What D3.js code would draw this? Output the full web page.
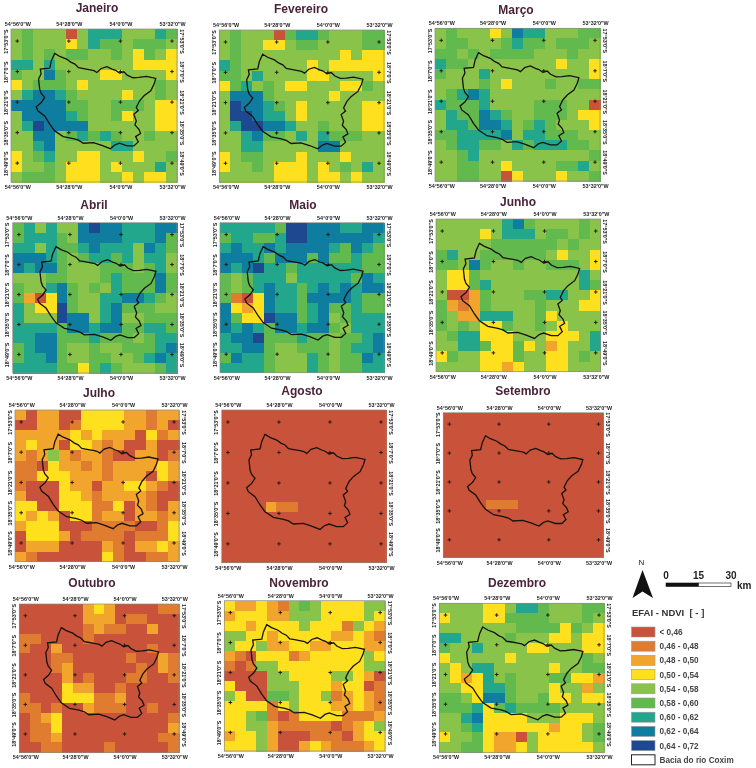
<!DOCTYPE html>
<html><head><meta charset="utf-8">
<script src="https://cdn.jsdelivr.net/npm/d3@7/dist/d3.min.js"></script>
<style>
html,body{margin:0;padding:0;background:#fff}
svg{display:block;filter:blur(0.6px)}
text{font-family:"Liberation Sans",Arial,sans-serif}
</style></head><body>
<svg id="c" width="756" height="768"></svg>
<script>
const classLabels = ["< 0,46","0,46 - 0,48","0,48 - 0,50","0,50 - 0,54","0,54 - 0,58","0,58 - 0,60","0,60 - 0,62","0,62 - 0,64","0,64 - 0,72"];
const classColors = ["#c8523a","#e07c30","#f2a52c","#ffe01e","#8ac34a","#62b94e","#22a68c","#0f7da0","#1e4890"];
const months = ["Janeiro","Fevereiro","Março","Abril","Maio","Junho","Julho","Agosto","Setembro","Outubro","Novembro","Dezembro"];
const lonTicks = [-54.9333,-54.4667,-54,-53.5333];
const lonLabels = ["54°56'0\"W","54°28'0\"W","54°0'0\"W","53°32'0\"W"];
const latTicks = [-17.8833,-18.1167,-18.35,-18.5833,-18.8167];
const latLabels = ["17°53'0\"S","18°7'0\"S","18°21'0\"S","18°35'0\"S","18°49'0\"S"];
const janeiro = ["454440466644465","454443465545554","454545544543543","664644444443333",
"544754443344443","345554344444454","467765444434454","777775544555433",
"477776544534433","468777744444433","447745656544544","446744444664444",
"345644334443445","344543334344464","455543334434334"];
const fevereiro = ["454440566544455","454433455444455","454444444443433","654444443433333",
"554644443344443","356454334443354","477754444434444","487765434444433",
"488766434444433","468877644544433","446755464655544","446644444774444",
"345544434443444","344543334345464","444443334334344"];
const marco = ["454443476644455","455444565545554","554545555444544","655444444443443",
"544464444444443","444454344454455","456764444444444","655564444555440",
"465576544555433","466577645654443","556666746655544","456655465666554",
"445644444444445","445544344445564","445544034443445"];
const abril = ["564644787766677","566654777766675","664655676664765","777654566564664",
"767754445554564","444554445655575","544675454655575","520375446677654",
"643385446755544","644487746744555","666657767755665","667755565554566",
"567754454455567","566754455445676","666655356544456"];
const maio = ["666665887776677","566556887777776","676676777765765","777657775755655",
"767866566666655","545666466666576","545676656767677","510376657777655",
"732376656755655","753387756745666","767657767754666","677855565545567",
"667754455545667","576654446545576","666654446545566"];
const junho = ["444444675444454","444434666455454","444445555554544","564455555543443",
"554754454455543","433544444444464","433564444444465","400254445566443",
"521254444544433","542266644534444","545433544543444","456633344433346",
"446653353423446","354433354433454","444433234433444"];
const julho = ["202200333322122","002201333322120","222223232220312","232203321200200",
"212421221002201","110322121222232","113332221222032","100032202233210",
"200033212222100","330033311302102","323203312202212","233300011110013",
"033320111101113","022200002102232","210000003100112"];
const agosto = ["000000000000000","000000000000000","000000000000000","000000000000000","000000000000000","000000000000000","000000000000000","000000000000000","000000000000000","000021100000000","000000000000000","000000000000000","000000000000000","000000000000000","000000000000000"];
const setembro = ["000000000000000","000000000000000","000000000000000","000000000000000","000000000000000","000000000000000","000000000000000","000000000000000","000000000000000","000011100000000","000000000000000","000000000000000","000000000000000","000000000000000","000000000000000"];
const outubro = ["000000232000011","000000222011000","000000121100200","110000100000000",
"100200000000100","000110000010021","000120000001021","000020100011001",
"000032200100000","100033311200000","110100211100100","012300000000001",
"011300000000002","011200000000011","001100001000001"];
const novembro = ["322321454333344","233322444333343","332333343331432","443323333322321",
"433422332233322","210333123333343","101443333333344","000044333344320",
"300044433323301","430055433412321","333313433322321","334510133331112",
"334421111101234","233420001110233","333420023211123"];
const dezembro = ["444433466544455","344433555544454","444444455553543","664444544433433",
"544644443344433","344444344444454","434664444434455","432364544455332",
"443366544434424","554377544533433","555635655554444","446733334443334",
"445633333323345","344532204333345","445532234333334"];
const grids = [janeiro,fevereiro,marco,abril,maio,junho,julho,agosto,setembro,outubro,novembro,dezembro];
// basin outline in grid-cell coordinates (column, row)
const basinCol = [3.95,4.41,5.02,5.4,5.78,6.1,6.45,7.15,7.5,7.76,8.15,8.67,9.13,9.45,9.8,10.2,10.5,11.01,11.56,12.23,13.08,12.93,12.63,12.02,11.62,11.32,11.5,11.1,11.32,11.2,11.56,11.71,11.26,11.5,11.1,10.5,9.8,9.4,8.97,8.21,7.45,6.54,6.1,5.63,4.72,3.95,3.5,3.04,2.43,2.28,2.74,3.04,2.72,2.59,2.49,2.72,2.65,3.5,3.65];
const basinRow = [2.39,2.69,2.95,3.25,3.44,3.8,3.87,4.0,4.08,4.26,3.87,3.7,3.93,4.05,4.32,4.2,4.52,4.78,4.75,4.65,4.85,5.4,6.06,6.55,7.04,7.7,8.0,8.35,9.01,9.4,9.83,10.25,10.55,11.07,11.46,11.46,11.2,11.35,11.73,11.4,11.14,11.2,10.9,10.74,10.55,9.99,9.33,8.52,8.02,7.63,7.21,6.71,6.3,5.9,4.91,4.4,3.93,3.83,3.11];

const boxes = [[11,177,29,182],[219.3,384,30,182],[435,600,28.3,181],
[12.7,177,222.7,373],[220,384,222.7,372.7],[436,600.7,219,371.7],
[15,179,410,561.7],[221.7,386,410,562.7],[443.3,603.3,412.7,557.7],
[19.3,179,604,752.3],[224.3,385,600.7,751],[439.3,604,603.3,752.3]];
const titlePos = [[97,7],[301,8],[516,9],[94,204],[303,204],[518,201],[99,392],[302,390],[523,390],[92,582],[299,582],[517,582]];

const svg = d3.select("#c");
const color = d3.scaleOrdinal().domain(d3.range(classColors.length)).range(classColors);

grids.forEach((grid,i)=>{
  const [x0,x1,y0,y1] = boxes[i];
  const g = svg.append("g");
  const cx = d3.scaleBand().domain(d3.range(15)).range([x0,x1]);
  const cy = d3.scaleBand().domain(d3.range(15)).range([y0,y1]);
  const colL = d3.scaleLinear().domain([0,15]).range([x0,x1]);
  const rowL = d3.scaleLinear().domain([0,15]).range([y0,y1]);
  const lon = d3.scaleLinear().domain([-54.99,-53.488]).range([x0,x1]);
  const lat = d3.scaleLinear().domain([-17.791,-18.961]).range([y0,y1]);
  const cells = grid.flatMap((row,r)=>row.split("").map((v,c)=>({r,c,v:+v})));
  g.selectAll("rect.cell").data(cells).join("rect").attr("class","cell")
    .attr("x",d=>cx(d.c)).attr("y",d=>cy(d.r))
    .attr("width",cx.bandwidth()+0.5).attr("height",cy.bandwidth()+0.5)
    .attr("shape-rendering","crispEdges")
    .attr("fill",d=>color(d.v));
  g.append("rect").attr("x",x0).attr("y",y0).attr("width",x1-x0).attr("height",y1-y0)
    .attr("fill","none").attr("stroke","#8a8a80").attr("stroke-width",0.7);
  const crosses = lonTicks.flatMap(a=>latTicks.map(b=>[a,b]));
  g.selectAll("path.cr").data(crosses).join("path").attr("class","cr")
    .attr("d",d=>`M${lon(d[0])-1.8},${lat(d[1])}h3.6M${lon(d[0])},${lat(d[1])-1.8}v3.6`)
    .attr("stroke","#2a1d14").attr("stroke-width",1).attr("fill","none");
  const line = d3.line().x(d=>colL(d[0])).y(d=>rowL(d[1])).curve(d3.curveLinearClosed);
  g.append("path").datum(basinCol.map((c,k)=>[c,basinRow[k]])).attr("d",line)
    .attr("fill","none").attr("stroke","#17120d").attr("stroke-width",1.3);
  const lonFmt = (d,k)=>lonLabels[k], latFmt = (d,k)=>latLabels[k];
  const style = a=>{a.select(".domain").remove();a.selectAll("line").remove();
    a.selectAll("text").attr("font-size",5.4).attr("font-weight","bold").attr("fill","#222").attr("font-family",'"Liberation Sans",Arial,sans-serif');};
  g.append("g").attr("transform",`translate(0,${y0-3})`).call(d3.axisTop(lon).tickValues(lonTicks).tickFormat(lonFmt).tickSize(0).tickPadding(0)).call(style);
  g.append("g").attr("transform",`translate(0,${y1+3})`).call(d3.axisBottom(lon).tickValues(lonTicks).tickFormat(lonFmt).tickSize(0).tickPadding(0)).call(style);
  const l = g.append("g").attr("transform",`translate(${x0-3.5},0)`).call(d3.axisLeft(lat).tickValues(latTicks).tickFormat(latFmt).tickSize(0).tickPadding(0)).call(style);
  l.selectAll("text").attr("text-anchor","middle").attr("dy",0).attr("x",0).attr("transform","rotate(-90)");
  const r = g.append("g").attr("transform",`translate(${x1+2.5},0)`).call(d3.axisRight(lat).tickValues(latTicks).tickFormat(latFmt).tickSize(0).tickPadding(0)).call(style);
  r.selectAll("text").attr("text-anchor","middle").attr("dy",0).attr("x",0).attr("transform","rotate(90)");
  svg.append("text").attr("x",titlePos[i][0]).attr("y",titlePos[i][1]+4.5).attr("text-anchor","middle")
    .attr("font-size",12).attr("font-weight","bold").attr("fill","#4a2338").text(months[i]);
});

// legend
const leg = svg.append("g");
leg.append("text").attr("x",641.5).attr("y",565).attr("text-anchor","middle").attr("font-size",8).attr("font-family","'Liberation Serif',serif").attr("fill","#222").text("N");
leg.append("path").attr("d","M642.5,570L653,598L642.5,591.5L632.5,598Z").attr("fill","#111");
const scaleX = d3.scaleLinear().domain([0,30]).range([666,731]);
[[0,"0"],[15,"15"],[30,"30"]].forEach(([v,t])=>leg.append("text").attr("x",scaleX(v)).attr("y",579).attr("text-anchor","middle").attr("font-size",10).attr("font-weight","bold").attr("fill","#222").text(t));
leg.append("text").attr("x",737).attr("y",589).attr("font-size",10).attr("font-weight","bold").attr("fill","#222").text("km");
leg.append("rect").attr("x",scaleX(0)).attr("y",583).attr("width",scaleX(15)-scaleX(0)).attr("height",3.5).attr("fill","#111").attr("stroke","#111").attr("stroke-width",0.6);
leg.append("rect").attr("x",scaleX(15)).attr("y",583).attr("width",scaleX(30)-scaleX(15)).attr("height",3.5).attr("fill","#fff").attr("stroke","#111").attr("stroke-width",0.6);
leg.append("text").attr("x",632).attr("y",616).attr("font-size",9.5).attr("font-weight","bold").attr("fill","#333").attr("xml:space","preserve").text("EFAI - NDVI  [ - ]");
const ly = d3.scalePoint().domain(d3.range(10)).range([632,759.8]);
const items = classLabels.map((t,k)=>({t,fill:classColors[k],k})).concat([{t:"Bacia do rio Coxim",fill:"#fff",k:9}]);
items.forEach(d=>{
  leg.append("rect").attr("x",631.5).attr("y",ly(d.k)-5).attr("width",23.5).attr("height",10)
    .attr("fill",d.fill).attr("stroke",d.k===9?"#222":"#999").attr("stroke-width",d.k===9?1:0.6);
  leg.append("text").attr("x",659.5).attr("y",ly(d.k)+3).attr("font-size",8.2).attr("font-weight","bold").attr("fill","#444").text(d.t);
});
</script>
</body></html>
